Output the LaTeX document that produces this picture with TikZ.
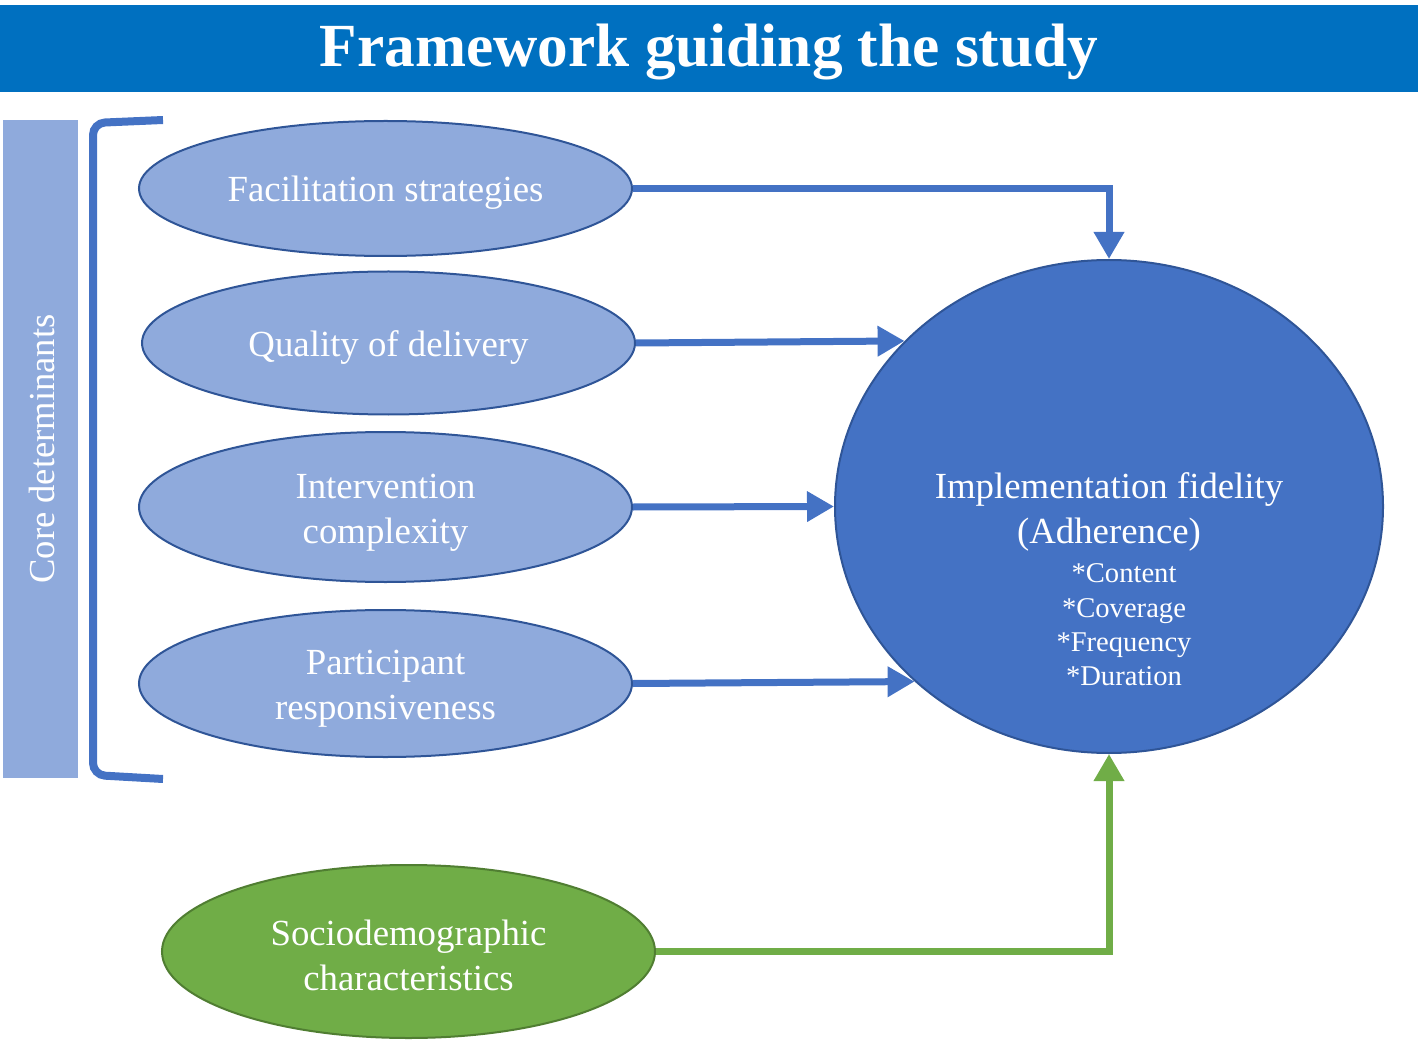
\documentclass[tikz,border=0pt]{standalone}
\usepackage{fontspec}
\setmainfont{Liberation Serif}
\usetikzlibrary{shapes.geometric,arrows.meta}
\definecolor{titleblue}{HTML}{0070C0}
\definecolor{lightblue}{HTML}{8FAADC}
\definecolor{midblue}{HTML}{4472C4}
\definecolor{darkblue}{HTML}{2F5597}
\definecolor{mygreen}{HTML}{70AD47}
\definecolor{darkgreen}{HTML}{507E32}
\tikzset{
  det/.style={ellipse, draw=darkblue, line width=2pt, fill=lightblue, inner sep=0pt,
    minimum width=493pt},
  lbl/.style={text=white, align=center, font=\fontsize{36.8}{45}\selectfont},
  arr/.style={draw=midblue, line width=7pt, -{Triangle[length=27pt,width=29pt]}},
  garr/.style={draw=mygreen, line width=7pt, -{Triangle[length=27pt,width=29pt]}},
}
\begin{document}
\begin{tikzpicture}[x=1pt,y=-1pt]
\useasboundingbox (0,0) rectangle (1424,1040);
% title bar
\fill[titleblue] (0,5) rectangle (1418,92);
\node[text=white, font=\fontsize{61.3}{70}\selectfont\bfseries] (title) at (709,52) {Framework guiding the study};
% left side bar
\fill[lightblue] (3,120) rectangle (78,778);
\node[rotate=90, text=white, font=\fontsize{36.6}{44}\selectfont] (core) at (42,449) {Core determinants};
% bracket
\draw[midblue, line width=8pt, rounded corners=12pt] (163,120) -- (93,123) -- (93,775) -- (163,779);
% determinant ellipses
\node[det, minimum height=135pt] (fac) at (385.5,188.5) {};
\node[lbl] (fact) at (385.5,193) {Facilitation strategies};
\node[det, minimum height=143pt] (qual) at (388.5,343) {};
\node[lbl] (qualt) at (388.5,347.5) {Quality of delivery};
\node[det, minimum height=150pt] (int) at (385.5,507) {};
\node[lbl] (intt) at (385.5,513) {Intervention\\complexity};
\node[det, minimum height=147pt] (part) at (385.5,683.5) {};
\node[lbl] (partt) at (385.5,689) {Participant\\responsiveness};
\node[det, minimum height=173pt, fill=mygreen, draw=darkgreen] (soc) at (408.5,951.5) {};
\node[lbl] (soct) at (408.5,955) {Sociodemographic\\characteristics};
% fidelity circle
\node[ellipse, draw=darkblue, line width=2pt, fill=midblue, inner sep=0pt,
  minimum width=548pt, minimum height=493pt] (fid) at (1109,506.5) {};
\node[lbl] (fidmain) at (1109,512) {Implementation fidelity\\(Adherence)};
\node[text=white, align=center, font=\fontsize{28.6}{34.3}\selectfont] (fidlist) at (1124,625) {*Content\\*Coverage\\*Frequency\\*Duration};
% arrows
\draw[arr] (fac.east) -| (fid.north);
\draw[arr] (qual.east) -- (fid.141.4);
\draw[arr] (int.east) -- (fid.west);
\draw[arr] (part.east) -- (fid.222);
\draw[garr] (soc.east) -| (fid.south);
\end{tikzpicture}
\end{document}
